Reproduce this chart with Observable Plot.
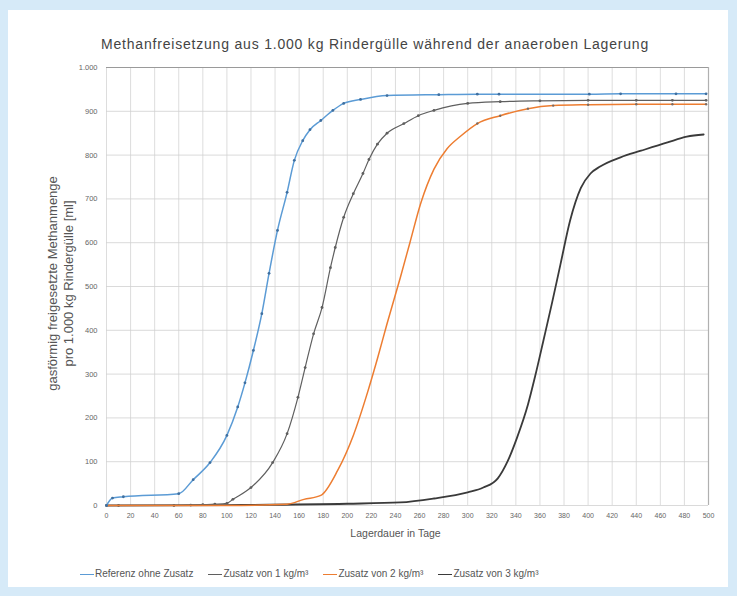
<!DOCTYPE html>
<html><head><meta charset="utf-8">
<script src="https://cdn.jsdelivr.net/npm/d3@7"></script>
<script src="https://cdn.jsdelivr.net/npm/@observablehq/plot@0.6"></script>
<style>
body{margin:0;background:#d6eaf8;width:737px;height:596px;position:relative;overflow:hidden;font-family:"Liberation Sans",Arial,sans-serif;}
#panel{position:absolute;left:8px;top:10px;width:720px;height:577px;background:#fff;}
#title{position:absolute;left:0;top:36px;width:750px;text-align:center;font-size:14px;letter-spacing:0.8px;color:#444;}
#chart{position:absolute;left:0;top:0;}
#legend{position:absolute;left:80px;top:568px;font-size:10px;color:#555;white-space:nowrap;}
#legend span.item{margin-right:15px;}
#legend span.sw{display:inline-block;width:14px;height:0;border-top:1.5px solid;vertical-align:middle;margin-right:1px;}
</style></head>
<body>
<div id="panel"></div>
<div id="title">Methanfreisetzung aus 1.000 kg Rindergülle während der anaeroben Lagerung</div>
<div id="chart"></div>
<div id="legend"></div>
<script>
const seriesNames = ["Referenz ohne Zusatz", "Zusatz von 1 kg/m³", "Zusatz von 2 kg/m³", "Zusatz von 3 kg/m³"];
const seriesColors = ["#5b9bd5", "#5f5f5f", "#ed7d31", "#3a3a3a"];

const refDays = [0, 5, 14, 60, 72, 86, 100, 109, 115, 122, 129, 135, 142, 150, 156, 163, 169, 178, 188, 197, 211, 233, 276, 308, 326, 401, 427, 473, 498];
const refVals = [0, 17, 20, 27, 59, 98, 160, 225, 280, 354, 438, 530, 628, 715, 788, 833, 858, 879, 902, 918, 927, 936, 938, 939, 939, 939, 940, 940, 940];

const z1Days = [0, 10, 56, 70, 80, 90, 100, 105, 120, 138, 150, 159, 165, 172, 179, 186, 190, 197, 205, 213, 218, 225, 233, 247, 259, 272, 300, 327, 360, 400, 440, 470, 498];
const z1Vals = [0, 0, 0, 1, 2, 3, 5, 14, 41, 98, 164, 247, 315, 392, 452, 543, 589, 658, 712, 758, 790, 825, 850, 872, 890, 902, 918, 922, 924, 925, 925, 925, 925];

const z2Days = [0, 100, 150, 164, 178, 192, 205, 217, 225, 233, 244, 252, 261, 272, 283, 294, 308, 327, 350, 371, 400, 440, 470, 498];
const z2Vals = [0, 0, 3, 14, 23, 80, 160, 260, 335, 415, 520, 600, 690, 768, 815, 843, 872, 890, 906, 913, 915, 916, 916, 916];

const z3Days = [0, 100, 200, 244, 272, 300, 313, 325, 333, 341, 350, 356, 363, 370, 377, 385, 394, 402, 410, 427, 444, 466, 482, 496];
const z3Vals = [0, 1, 4, 7, 16, 30, 41, 62, 100, 155, 230, 295, 378, 462, 550, 650, 725, 758, 774, 795, 810, 829, 842, 847];

const xTicks = d3.range(0, 501, 20);
const yTicks = d3.range(0, 1001, 100);

const allDays = [refDays, z1Days, z2Days, z3Days];
const allVals = [refVals, z1Vals, z2Vals, z3Vals];
const data = [];
allDays.forEach((ds, i) => ds.forEach((d, j) => data.push({s: seriesNames[i], x: d, y: allVals[i][j]})));
const bySeries = name => data.filter(d => d.s === name);

const fmt = v => v === 1000 ? "1.000" : String(v);

const chart = Plot.plot({
  width: 737, height: 560,
  marginLeft: 106, marginRight: 29, marginTop: 67, marginBottom: 55,
  style: {background: "transparent", fontFamily: "Liberation Sans, Arial, sans-serif", color: "#666"},
  x: {domain: [0, 500], ticks: xTicks, tickSize: 0, tickPadding: 8, tickFormat: d => d, label: null},
  y: {domain: [0, 1000], ticks: yTicks, tickSize: 0, tickPadding: 9, tickFormat: fmt, label: null},
  color: {domain: seriesNames, range: seriesColors},
  marks: [
    Plot.gridX(xTicks, {stroke: "#d4d4d4", strokeOpacity: 1, strokeWidth: 0.8}),
    Plot.gridY(yTicks, {stroke: "#d0d0d0", strokeOpacity: 1, strokeWidth: 0.8}),
    Plot.ruleY([1000], {stroke: "#9a9a9a", strokeWidth: 1}),
    Plot.ruleX([500], {stroke: "#b0b0b0", strokeWidth: 1.2}),
    Plot.axisX({ticks: xTicks, tickSize: 0, tickPadding: 8, fontSize: 7, tickFormat: d => d, label: null}),
    Plot.axisY({ticks: yTicks, tickSize: 0, tickPadding: 9, fontSize: 7.5, tickFormat: fmt, label: null}),
    Plot.text(["Lagerdauer in Tage"], {frameAnchor: "bottom", dy: 31, dx: -12, fontSize: 10.5, fill: "#555"}),
    Plot.text(["gasförmig freigesetzte Methanmenge\npro 1.000 kg Rindergülle [ml]"], {frameAnchor: "left", textAnchor: "middle", dx: -47, dy: -3, rotate: -90, fontSize: 13, fill: "#555", lineHeight: 1.25, letterSpacing: "1.5px"}),
    Plot.line(bySeries(seriesNames[3]), {x: "x", y: "y", stroke: seriesColors[3], strokeWidth: 1.8, curve: "monotone-x"}),
    Plot.line(bySeries(seriesNames[1]), {x: "x", y: "y", stroke: seriesColors[1], strokeWidth: 1.2, curve: "monotone-x"}),
    Plot.dot(bySeries(seriesNames[1]), {x: "x", y: "y", fill: seriesColors[1], r: 1.4}),
    Plot.line(bySeries(seriesNames[2]), {x: "x", y: "y", stroke: seriesColors[2], strokeWidth: 1.5, curve: "monotone-x"}),
    Plot.dot(bySeries(seriesNames[2]).filter(d => d.x >= 300), {x: "x", y: "y", fill: "#7a6a60", r: 1.2}),
    Plot.line(bySeries(seriesNames[0]), {x: "x", y: "y", stroke: seriesColors[0], strokeWidth: 1.5, curve: "monotone-x"}),
    Plot.dot(bySeries(seriesNames[0]), {x: "x", y: "y", fill: "#3f6f9f", r: 1.4})
  ]
});
document.getElementById("chart").appendChild(chart);

const legend = document.getElementById("legend");
seriesNames.forEach((n, i) => {
  const item = document.createElement("span");
  item.className = "item";
  const sw = document.createElement("span");
  sw.className = "sw";
  sw.style.borderTopColor = seriesColors[i];
  item.appendChild(sw);
  item.appendChild(document.createTextNode(n));
  legend.appendChild(item);
});
</script>
</body></html>
